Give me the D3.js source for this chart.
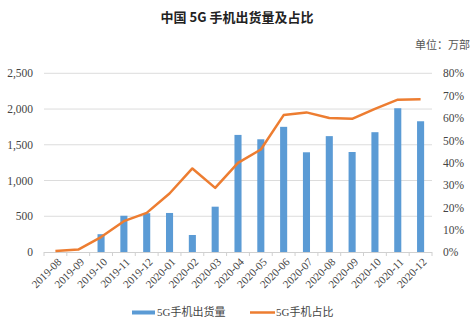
<!DOCTYPE html>
<html><head><meta charset="utf-8">
<script src="https://cdn.jsdelivr.net/npm/d3@7"></script>
<style>body{margin:0;background:#fff}svg{display:block}
.sf{font-family:"Liberation Serif","Times New Roman","DejaVu Serif",serif;}
.cj{font-family:"Liberation Serif","Times New Roman","Noto Sans CJK SC",serif;}
</style>
</head><body><svg id="c" width="474" height="328"></svg>
<script>
const categories = ["2019-08","2019-09","2019-10","2019-11","2019-12","2020-01","2020-02","2020-03","2020-04","2020-05","2020-06","2020-07","2020-08","2020-09","2020-10","2020-11","2020-12"];
const shipments = [0,0,249,507,543,546,238,634,1638,1577,1751,1395,1621,1399,1676,2011,1829];
const shares = [0.5,1.1,6.7,13.8,17.5,26.2,37.4,28.7,39.9,45.9,61.3,62.5,60.0,59.6,64.1,68.2,68.4];
const leftTicks = [0,500,1000,1500,2000,2500];
const rightTicks = [0,10,20,30,40,50,60,70,80];
const title = "中国 5G 手机出货量及占比";
const unit = "单位：万部";
const legendNames = ["5G手机出货量","5G手机占比"];

const svg = d3.select("#c");
const L = 44, R = 432, T = 73.3, B = 252;
const x = d3.scaleBand().domain(categories).range([L, R]).paddingInner(0.69).paddingOuter(0.345);
const xb = d3.scaleBand().domain(categories).range([L, R]);
const yL = d3.scaleLinear().domain([0,2500]).range([B, T]);
const yR = d3.scaleLinear().domain([0,80]).range([B, T]);

svg.append("text").attr("x",237).attr("y",22).attr("text-anchor","middle")
  .style("font-family","'Noto Sans CJK SC',sans-serif").attr("font-weight","bold").attr("font-size",13).attr("fill","#222").text(title);
svg.append("text").attr("class","cj").attr("x",470).attr("y",49).attr("text-anchor","end")
  .attr("font-size",11).attr("fill","#555").text(unit);

// gridlines
svg.append("g").selectAll("line").data(leftTicks.slice(1)).join("line")
  .attr("x1",L).attr("x2",R).attr("y1",d=>yL(d)).attr("y2",d=>yL(d))
  .attr("stroke","#dcdcdc").attr("stroke-width",1);

// left axis
const gl = svg.append("g").attr("transform",`translate(${L},0)`)
  .call(d3.axisLeft(yL).tickValues(leftTicks).tickSize(0).tickPadding(11).tickFormat(d3.format(",")));
gl.attr("font-family",null);
gl.select(".domain").remove();
gl.selectAll("text").attr("class","sf").attr("font-size",11.5).attr("fill","#444");

// right axis
const gr = svg.append("g").attr("transform",`translate(${R},0)`)
  .call(d3.axisRight(yR).tickValues(rightTicks).tickSize(0).tickPadding(11).tickFormat(d=>d+"%"));
gr.attr("font-family",null);
gr.select(".domain").remove();
gr.selectAll("text").attr("class","sf").attr("font-size",11.5).attr("fill","#444");

// bars
svg.append("g").selectAll("rect").data(shipments).join("rect")
  .attr("x",(d,i)=>x(categories[i])).attr("width",x.bandwidth())
  .attr("y",d=>yL(d)).attr("height",d=>B-yL(d)).attr("fill","#5B9BD5");

// x axis
svg.append("line").attr("x1",L).attr("x2",R).attr("y1",B+0.5).attr("y2",B+0.5).attr("stroke","#d0d0d0");
svg.append("g").selectAll("line").data(categories.concat(["end"])).join("line")
  .attr("x1",(d,i)=>L+i*xb.step()).attr("x2",(d,i)=>L+i*xb.step())
  .attr("y1",B).attr("y2",B+4).attr("stroke","#d0d0d0");
svg.append("g").selectAll("text").data(categories).join("text")
  .attr("class","sf")
  .attr("transform",d=>`translate(${xb(d)+xb.bandwidth()/2+4},${B+8}) rotate(-45)`)
  .attr("text-anchor","end").attr("dy","0.35em")
  .attr("font-size",11).attr("fill","#444").text(d=>d);

// line
const line = d3.line().x((d,i)=>xb(categories[i])+xb.bandwidth()/2).y(d=>yR(d));
svg.append("path").datum(shares).attr("d",line).attr("fill","none")
  .attr("stroke","#ED7D31").attr("stroke-width",2.5).attr("stroke-linejoin","round");

// legend
const ly = 312.5;
svg.append("rect").attr("x",132).attr("y",ly-2).attr("width",23).attr("height",4).attr("fill","#5B9BD5");
svg.append("text").attr("class","cj").attr("x",157).attr("y",ly).attr("dy","0.35em").attr("font-size",11).attr("fill","#444").text(legendNames[0]);
svg.append("line").attr("x1",250).attr("x2",275).attr("y1",ly).attr("y2",ly).attr("stroke","#ED7D31").attr("stroke-width",2.5);
svg.append("text").attr("class","cj").attr("x",276).attr("y",ly).attr("dy","0.35em").attr("font-size",11).attr("fill","#444").text(legendNames[1]);
</script></body></html>
